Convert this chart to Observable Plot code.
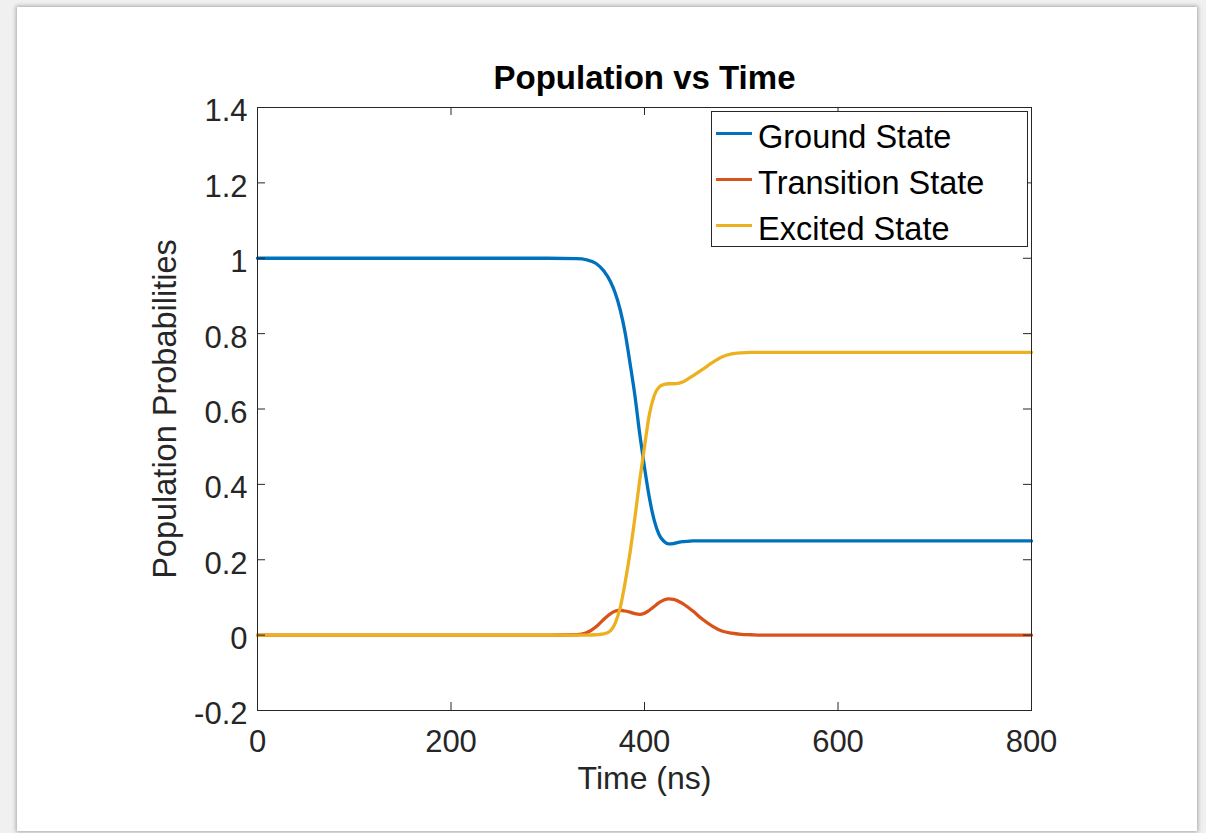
<!DOCTYPE html>
<html><head><meta charset="utf-8">
<script src="https://cdn.jsdelivr.net/npm/d3@7"></script>
<script src="https://cdn.jsdelivr.net/npm/@observablehq/plot@0.6"></script>
<style>
html,body{margin:0;padding:0;background:#f0f0f0;width:1206px;height:833px;overflow:hidden;font-family:"Liberation Sans",Arial,sans-serif;}
#panel{position:absolute;left:17px;top:7px;width:1180px;height:824px;background:#fff;box-shadow:0 0 4px 1px rgba(0,0,0,0.3);}
#chart{position:absolute;left:0;top:0;width:1206px;height:833px;}
#legend{position:absolute;left:711px;top:111px;width:315px;height:134px;border:1px solid #262626;background:#fff;}
.sw{position:absolute;left:4px;width:36px;height:3px;}
.lt{position:absolute;left:46px;font-size:32.5px;line-height:32.5px;color:#000;white-space:nowrap;}
</style>
</head><body>
<div id="panel"></div>
<div id="chart"></div>
<div id="legend"></div>
<script>
const seriesNames = ["Ground State", "Transition State", "Excited State"];
const seriesColors = ["#0072BD", "#D95319", "#EDB120"];
const time = [0, 300, 330, 340, 350, 358, 365, 370, 375, 380, 385, 390, 395, 400, 405, 410, 415, 420, 425, 430, 435, 440, 445, 450, 460, 470, 480, 490, 500, 510, 520, 800];
const ground = [1, 1, 0.999, 0.996, 0.986, 0.966, 0.937, 0.906, 0.862, 0.802, 0.722, 0.637, 0.535, 0.445, 0.365, 0.305, 0.267, 0.249, 0.242, 0.243, 0.246, 0.248, 0.249, 0.25, 0.25, 0.25, 0.25, 0.25, 0.25, 0.25, 0.25, 0.25];
const transition = [0, 0, 0.001, 0.006, 0.022, 0.042, 0.057, 0.064, 0.066, 0.064, 0.061, 0.057, 0.055, 0.058, 0.066, 0.076, 0.086, 0.093, 0.096, 0.095, 0.090, 0.083, 0.074, 0.064, 0.042, 0.024, 0.011, 0.005, 0.002, 0.001, 0, 0];
const excited = [0, 0, 0, 0, 0.001, 0.003, 0.012, 0.033, 0.074, 0.14, 0.218, 0.31, 0.41, 0.50, 0.585, 0.635, 0.658, 0.665, 0.667, 0.667, 0.668, 0.672, 0.68, 0.688, 0.705, 0.723, 0.738, 0.746, 0.749, 0.75, 0.75, 0.75];
const xTicks = [0, 200, 400, 600, 800];
const xTickLabels = ["0", "200", "400", "600", "800"];
const yTicks = [-0.2, 0, 0.2, 0.4, 0.6, 0.8, 1, 1.2, 1.4];
const yTickLabels = ["-0.2", "0", "0.2", "0.4", "0.6", "0.8", "1", "1.2", "1.4"];
const titleText = "Population vs Time";
const xLabel = "Time (ns)";
const yLabel = "Population Probabilities";

const valuesBySeries = [ground, transition, excited];
const rows = seriesNames.flatMap((name, s) => time.map((t, i) => ({t, v: valuesBySeries[s][i], name})));

const axisColor = "#262626";
const chart = Plot.plot({
  width: 1206, height: 833,
  marginLeft: 257, marginRight: 175, marginTop: 107, marginBottom: 123,
  x: {domain: [0, 800]},
  y: {domain: [-0.2, 1.4]},
  color: {domain: seriesNames, range: seriesColors},
  style: {background: "transparent", fontFamily: "'Liberation Sans', Arial, sans-serif", color: axisColor, overflow: "visible"},
  marks: [
    Plot.lineY(rows, {x: "t", y: "v", z: "name", stroke: "name", strokeWidth: 3.3, curve: "monotone-x", strokeLinejoin: "round"}),
    Plot.ruleX(xTicks, {x: d => d, insetTop: 595, stroke: axisColor}),
    Plot.ruleX(xTicks, {x: d => d, insetBottom: 595, stroke: axisColor}),
    Plot.ruleY(yTicks, {y: d => d, insetRight: 766, stroke: axisColor}),
    Plot.ruleY(yTicks, {y: d => d, insetLeft: 766, stroke: axisColor}),
    Plot.frame({stroke: axisColor, strokeWidth: 1}),
    Plot.axisX(xTicks, {anchor: "bottom", tickSize: 0, tickPadding: 19, fontSize: 31, label: null, tickFormat: d => xTickLabels[xTicks.indexOf(d)], fill: axisColor}),
    Plot.axisY(yTicks, {anchor: "left", tickSize: 0, tickPadding: 10, fontSize: 31, dy: 4, label: null, tickFormat: d => yTickLabels[yTicks.indexOf(d)], fill: axisColor}),
    Plot.text([titleText], {text: d => d, frameAnchor: "top", lineAnchor: "top", dy: -42, fontSize: 33, fontWeight: "bold", fill: "#000"}),
    Plot.text([xLabel], {text: d => d, frameAnchor: "bottom", lineAnchor: "top", dy: 56, fontSize: 32, fill: axisColor}),
    Plot.text([yLabel], {text: d => d, frameAnchor: "left", textAnchor: "middle", lineAnchor: "middle", rotate: -90, dx: -92, fontSize: 32.5, fill: axisColor})
  ]
});
document.getElementById("chart").appendChild(chart);

const legend = document.getElementById("legend");
seriesNames.forEach((name, i) => {
  const sw = document.createElement("div");
  sw.className = "sw";
  sw.style.top = (19.5 + 46 * i) + "px";
  sw.style.background = seriesColors[i];
  legend.appendChild(sw);
  const lt = document.createElement("div");
  lt.className = "lt";
  lt.style.top = (8.8 + 46 * i) + "px";
  lt.textContent = name;
  legend.appendChild(lt);
});
</script>
</body></html>
